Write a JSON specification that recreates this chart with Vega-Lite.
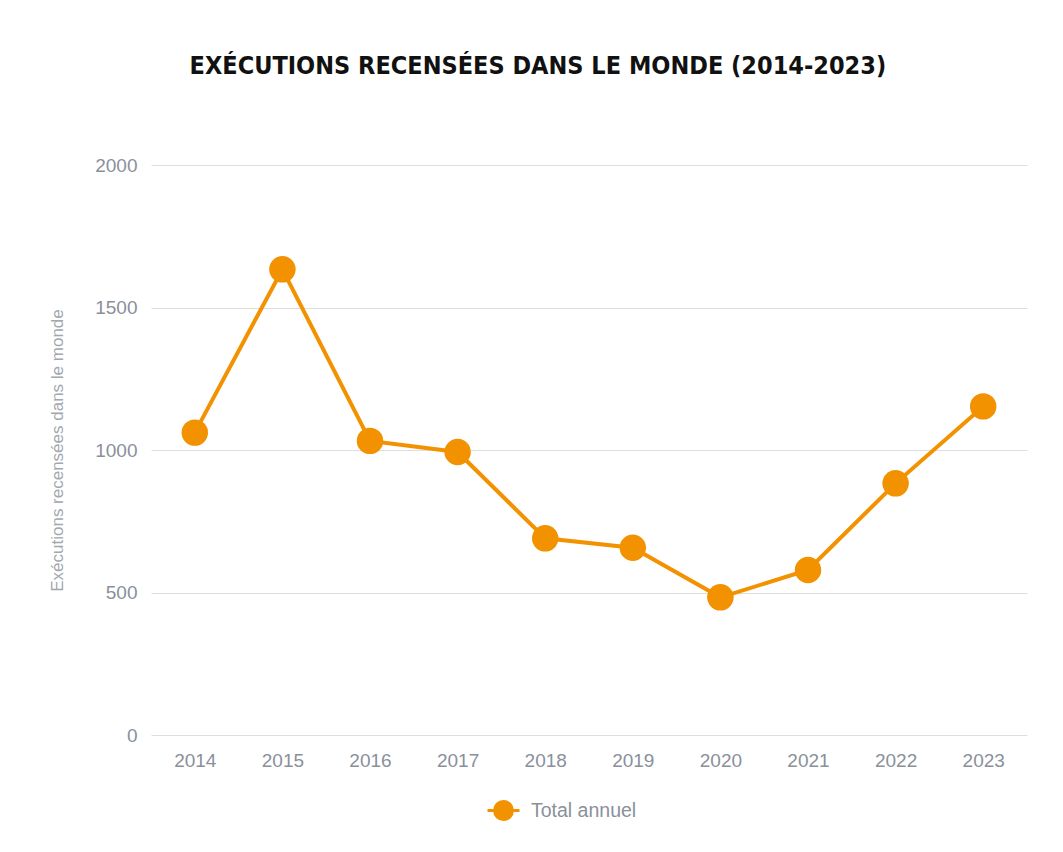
{
  "$schema": "https://vega.github.io/schema/vega-lite/v6.json",
  "width": 876,
  "height": 570,
  "padding": {"left": 48, "top": 54, "right": 35, "bottom": 20},
  "background": "white",
  "title": {
    "text": "EXÉCUTIONS RECENSÉES DANS LE MONDE (2014-2023)",
    "font": "DejaVu Sans Condensed, sans-serif",
    "fontSize": 25,
    "fontWeight": "bold",
    "color": "#111111",
    "anchor": "middle",
    "frame": "bounds",
    "offset": 77
  },
  "data": {
    "values": [
      {"annee": "2014", "executions": 1061, "serie": "Total annuel"},
      {"annee": "2015", "executions": 1634, "serie": "Total annuel"},
      {"annee": "2016", "executions": 1032, "serie": "Total annuel"},
      {"annee": "2017", "executions": 993, "serie": "Total annuel"},
      {"annee": "2018", "executions": 690, "serie": "Total annuel"},
      {"annee": "2019", "executions": 657, "serie": "Total annuel"},
      {"annee": "2020", "executions": 483, "serie": "Total annuel"},
      {"annee": "2021", "executions": 579, "serie": "Total annuel"},
      {"annee": "2022", "executions": 883, "serie": "Total annuel"},
      {"annee": "2023", "executions": 1153, "serie": "Total annuel"}
    ]
  },
  "encoding": {
    "x": {
      "field": "annee",
      "type": "ordinal",
      "scale": {"type": "point", "padding": 0.5},
      "axis": {
        "title": null,
        "labelAngle": 0,
        "labelFont": "Liberation Sans",
        "labelFontSize": 19,
        "labelColor": "#8a909a",
        "labelPadding": 16,
        "domain": false,
        "ticks": false,
        "grid": false
      }
    },
    "y": {
      "field": "executions",
      "type": "quantitative",
      "scale": {"domain": [0, 2000], "nice": false},
      "axis": {
        "title": "Exécutions recensées dans le monde",
        "titleFont": "Liberation Sans",
        "titleFontSize": 17,
        "titleFontWeight": "normal",
        "titleColor": "#a3a7ae",
        "titlePadding": 28,
        "values": [0, 500, 1000, 1500, 2000],
        "format": "d",
        "labelFont": "Liberation Sans",
        "labelFontSize": 19,
        "labelColor": "#8a909a",
        "labelPadding": 14,
        "domain": false,
        "ticks": false,
        "grid": true,
        "gridColor": "#dedede",
        "gridWidth": 1
      }
    },
    "color": {
      "field": "serie",
      "type": "nominal",
      "scale": {"range": ["#F39200"]},
      "legend": {
        "title": null,
        "orient": "none",
        "legendX": 335,
        "legendY": 628,
        "direction": "horizontal",
        "labelFont": "Liberation Sans",
        "labelFontSize": 19.5,
        "labelColor": "#8a909a",
        "symbolType": "M -1 0 L 1 0 M 0.56 0 A 0.56 0.56 0 1 1 -0.56 0 A 0.56 0.56 0 1 1 0.56 0 Z",
        "symbolSize": 1024,
        "symbolStrokeWidth": 3,
        "symbolFillColor": "#F39200",
        "symbolStrokeColor": "#F39200",
        "labelOffset": 10
      }
    }
  },
  "layer": [
    {"mark": {"type": "line", "strokeWidth": 4}},
    {"mark": {"type": "point", "filled": true, "size": 700, "opacity": 1}}
  ],
  "config": {"view": {"stroke": null}}
}
